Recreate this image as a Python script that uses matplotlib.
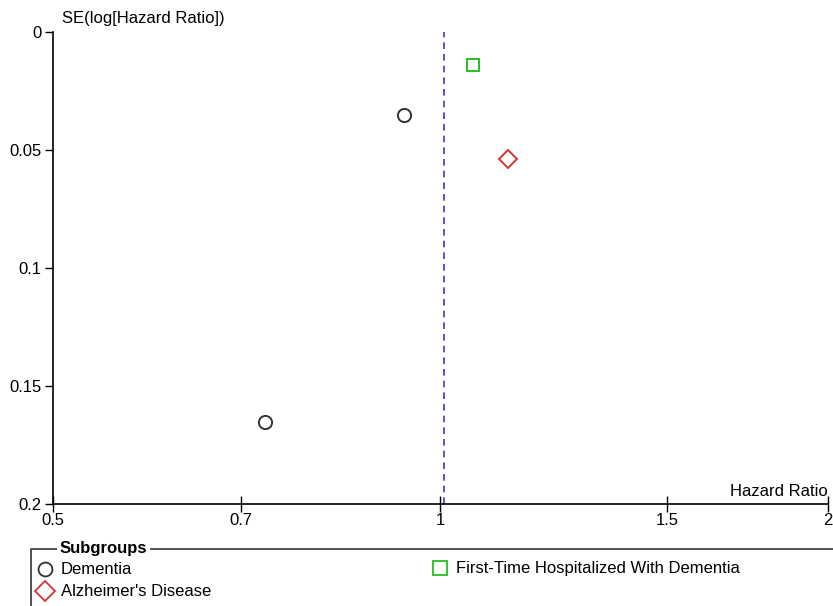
import numpy as np
import matplotlib.pyplot as plt
from matplotlib.ticker import FixedLocator, NullLocator, FixedFormatter
from matplotlib.lines import Line2D

plt.rcParams['font.family'] = ['Liberation Sans', 'DejaVu Sans']
plt.rcParams['font.size'] = 12

# datos
dementia_hr = [0.936, 0.730]
dementia_se = [0.0352, 0.165]
alz_hr = [1.129]
alz_se = [0.0538]
first_hr = [1.060]
first_se = [0.014]
pooled_hr = 1.006

x_ticks = [0.5, 0.7, 1, 1.5, 2]
x_labels = ['0.5', '0.7', '1', '1.5', '2']
y_ticks = [0, 0.05, 0.1, 0.15, 0.2]
y_labels = ['0', '0.05', '0.1', '0.15', '0.2']

fig = plt.figure(figsize=(8.33, 6.06), dpi=100)
ax = fig.add_axes([0.0636, 0.168, 0.9304, 0.779])

ax.plot(dementia_hr, dementia_se, 'o', ms=9.5, mfc='none', mec='#333333', mew=1.4)
ax.plot(alz_hr, alz_se, 'D', ms=9.5, mfc='none', mec='#d03535', mew=1.4)
ax.plot(first_hr, first_se, 's', ms=9, mfc='none', mec='#22c022', mew=1.4)
ax.axvline(pooled_hr, color='#3a3ad0', ls=(0, (4, 3)), lw=1.2)

ax.set_xscale('log')
ax.set_xlim(0.5, 2)
ax.set_ylim(0.2, 0)
ax.xaxis.set_major_locator(FixedLocator(x_ticks))
ax.xaxis.set_major_formatter(FixedFormatter(x_labels))
ax.xaxis.set_minor_locator(NullLocator())
ax.yaxis.set_major_locator(FixedLocator(y_ticks))
ax.yaxis.set_major_formatter(FixedFormatter(y_labels))
ax.tick_params(axis='x', direction='inout', length=12, width=1, pad=0)
ax.tick_params(axis='y', direction='out', length=6, width=1, pad=2)
for s in ['top', 'right']:
    ax.spines[s].set_visible(False)
for s in ['left', 'bottom']:
    ax.spines[s].set_linewidth(1.2)

fig.text(62/833, 1 - 19/606, 'SE(log[Hazard Ratio])', ha='left', va='center')
fig.text(828/833, 1 - 491/606, 'Hazard Ratio', ha='right', va='center')

# cuadro de subgrupos
lg = fig.add_axes([0, 0, 1, 1], facecolor='none')
lg.set_xlim(0, 833)
lg.set_ylim(606, 0)
lg.axis('off')
lg.add_line(Line2D([31, 31, 845], [620, 549, 549], color='#333333', lw=1.2))
lg.text(60, 549, 'Subgroups', fontweight='bold', ha='left', va='center',
        bbox=dict(facecolor='white', edgecolor='none', pad=2))
lg.plot([45], [569], 'o', ms=10, mfc='none', mec='#333333', mew=1.3)
lg.text(61, 569, 'Dementia', ha='left', va='center')
lg.plot([45], [591], 'D', ms=10, mfc='none', mec='#d03535', mew=1.3)
lg.text(61, 591, "Alzheimer's Disease", ha='left', va='center')
lg.plot([440], [568], 's', ms=10, mfc='none', mec='#22c022', mew=1.3)
lg.text(456, 569, 'First-Time Hospitalized With Dementia', ha='left', va='center')

plt.savefig('out.png', dpi=100)
